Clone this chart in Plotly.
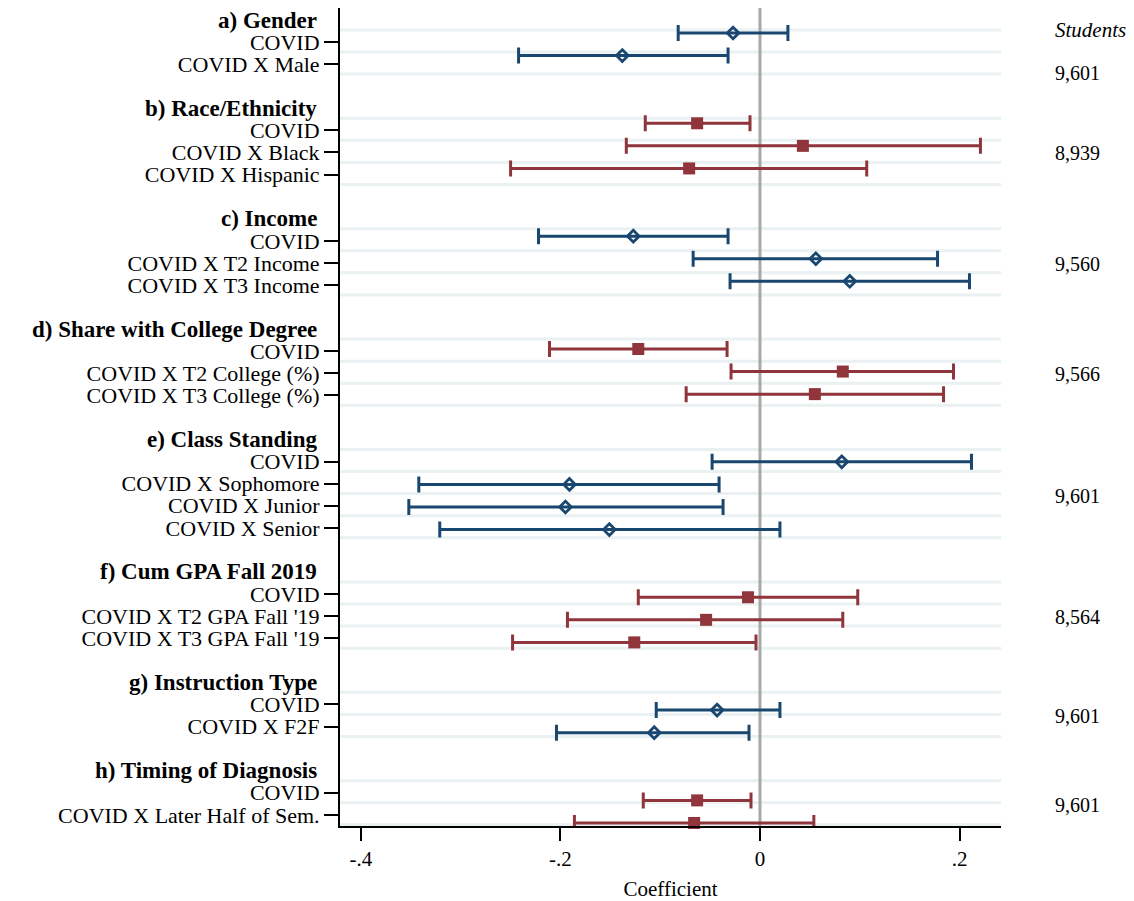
import plotly.graph_objects as go

# ---------------- data ----------------
group_titles = ["a) Gender", "b) Race/Ethnicity", "c) Income", "d) Share with College Degree",
                "e) Class Standing", "f) Cum GPA Fall 2019", "g) Instruction Type",
                "h) Timing of Diagnosis"]
students = ["9,601", "8,939", "9,560", "9,566", "9,601", "8,564", "9,601", "9,601"]

term_group = [0, 0,
              1, 1, 1,
              2, 2, 2,
              3, 3, 3,
              4, 4, 4, 4,
              5, 5, 5,
              6, 6,
              7, 7]
term_label = ["COVID", "COVID X Male",
              "COVID", "COVID X Black", "COVID X Hispanic",
              "COVID", "COVID X T2 Income", "COVID X T3 Income",
              "COVID", "COVID X T2 College (%)", "COVID X T3 College (%)",
              "COVID", "COVID X Sophomore", "COVID X Junior", "COVID X Senior",
              "COVID", "COVID X T2 GPA Fall '19", "COVID X T3 GPA Fall '19",
              "COVID", "COVID X F2F",
              "COVID", "COVID X Later Half of Sem."]
coef = [-0.027, -0.138,
        -0.063, 0.043, -0.071,
        -0.127, 0.056, 0.090,
        -0.122, 0.083, 0.055,
        0.082, -0.191, -0.195, -0.151,
        -0.012, -0.054, -0.126,
        -0.043, -0.106,
        -0.063, -0.066]
ci_low = [-0.082, -0.242,
          -0.115, -0.134, -0.250,
          -0.222, -0.067, -0.030,
          -0.211, -0.029, -0.074,
          -0.048, -0.342, -0.352, -0.321,
          -0.122, -0.193, -0.248,
          -0.104, -0.204,
          -0.117, -0.186]
ci_high = [0.028, -0.032,
           -0.010, 0.221, 0.107,
           -0.032, 0.178, 0.210,
           -0.033, 0.194, 0.184,
           0.212, -0.041, -0.037, 0.020,
           0.098, 0.083, -0.004,
           0.020, -0.011,
           -0.009, 0.054]

x_ticks = [-0.4, -0.2, 0.0, 0.2]
x_tick_text = ["-.4", "-.2", "0", ".2"]

# ---------------- layout helpers ----------------
BLUE = "#1a476f"
RED = "#90353b"
FONT = "Liberation Serif"
group_color = [BLUE if g % 2 == 0 else RED for g in range(len(group_titles))]

# assign rows: header row, item rows, blank row between groups
header_row = []
term_row = []
grid_rows = []
r = 0
for g in range(len(group_titles)):
    header_row.append(r)
    grid_rows.append(r)
    r += 1
    for i, tg in enumerate(term_group):
        if tg == g:
            term_row.append(r)
            grid_rows.append(r)
            r += 1
    r += 1  # blank spacer

# markers sit on a slightly stretched/shifted scale relative to labels (as in original)
row_stretch = 1.0222
marker_shift = -0.433
marker_pos = [tr * row_stretch + marker_shift for tr in term_row]
grid_shift = 0.45

# position of the "Students" count per group (centre of its items; first group lower)
n_extra = [0.85, 0, 0, 0, 0, 0, 0, 0]
n_pos = []
for g in range(len(group_titles)):
    rows = [term_row[i] for i, tg in enumerate(term_group) if tg == g]
    n_pos.append(sum(rows) / len(rows) + 0.04 + n_extra[g])

fig = go.Figure()

for g in range(len(group_titles)):
    idx = [i for i, tg in enumerate(term_group) if tg == g]
    col = group_color[g]
    x = [coef[i] for i in idx]
    y = [marker_pos[i] for i in idx]
    plus = [ci_high[i] - coef[i] for i in idx]
    minus = [coef[i] - ci_low[i] for i in idx]
    if col == BLUE:
        marker = dict(symbol="diamond-open", size=9, color=col, line=dict(width=2.8, color=col))
    else:
        marker = dict(symbol="square", size=12, color=col, line=dict(width=0))
    fig.add_trace(go.Scatter(
        x=x, y=y, mode="markers", marker=marker, showlegend=False, cliponaxis=False,
        error_x=dict(type="data", symmetric=False, array=plus, arrayminus=minus,
                     color=col, thickness=3, width=8),
    ))

shapes = []
for gr in grid_rows:
    shapes.append(dict(type="line", xref="paper", x0=0, x1=1, yref="y",
                       y0=gr + grid_shift, y1=gr + grid_shift,
                       line=dict(color="#e9f1f3", width=3), layer="below"))
shapes.append(dict(type="line", xref="x", x0=0, x1=0, yref="paper", y0=0, y1=1,
                   line=dict(color="#a8a8a8", width=3), layer="below"))

annotations = []
for g, title in enumerate(group_titles):
    annotations.append(dict(text="<b>" + title + "</b>", xref="paper", x=0, xanchor="right",
                            xshift=-21, yref="y", y=header_row[g], yanchor="middle",
                            showarrow=False, font=dict(family=FONT, size=23, color="black")))
    annotations.append(dict(text=students[g], xref="paper", x=1, xanchor="left",
                            xshift=52, yref="y", y=n_pos[g], yanchor="middle",
                            showarrow=False, font=dict(family=FONT, size=20, color="black")))
annotations.append(dict(text="<i>Students</i>", xref="paper", x=1, xanchor="left",
                        xshift=52, yref="y", y=grid_shift, yanchor="middle",
                        showarrow=False, font=dict(family=FONT, size=21, color="black")))

fig.update_layout(
    width=1134, height=901,
    margin=dict(l=340, r=133, t=8, b=75),
    paper_bgcolor="white", plot_bgcolor="white",
    font=dict(family=FONT, size=22, color="black"),
    shapes=shapes, annotations=annotations,
    xaxis=dict(range=[-0.421, 0.2416], tickvals=x_ticks, ticktext=x_tick_text,
               showgrid=False, zeroline=False, showline=True, linecolor="black", linewidth=2,
               ticks="outside", ticklen=13, tickwidth=2, tickcolor="black",
               tickfont=dict(family=FONT, size=21), automargin=False,
               title=dict(text="Coefficient", font=dict(family=FONT, size=21), standoff=15)),
    yaxis=dict(range=[36.504, -0.5435], tickvals=term_row, ticktext=term_label,
               showgrid=False, zeroline=False, showline=True, linecolor="black", linewidth=2,
               ticks="outside", ticklen=14, tickwidth=2, tickcolor="black", automargin=False,
               tickfont=dict(family=FONT, size=22), ticklabelstandoff=0),
)

fig.write_html("out.html")
